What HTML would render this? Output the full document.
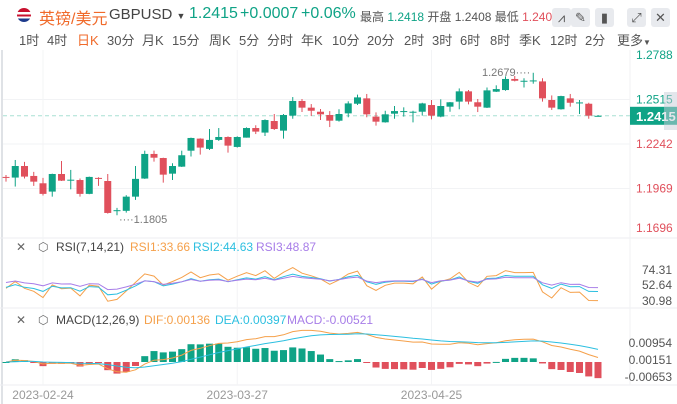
<!DOCTYPE html>
<html><head><meta charset="utf-8">
<style>
html,body{margin:0;padding:0;background:#fff;}
body{width:677px;height:404px;overflow:hidden;position:relative;font-family:"Liberation Sans","Noto Sans CJK SC",sans-serif;}
.t{position:absolute;white-space:nowrap;}
.btn{position:absolute;top:8px;width:19px;height:19px;background:#e8eaee;border-radius:3px;color:#555;font-size:13px;text-align:center;line-height:19px;}
.tab{position:absolute;top:30px;font-size:13px;color:#555;}
</style></head>
<body>
<div class="t" style="left:17px;top:8px;width:14px;height:14px;border-radius:7px;background:linear-gradient(#c8102e 0 30%,#fff 30% 45%,#c8102e 45% 60%,#fff 60% 75%,#1d3b8c 75%);"></div>
<div class="t" style="left:39px;top:5px;font-size:16px;color:#f06a2a;">英镑/美元</div>
<div class="t" style="left:109px;top:6px;font-size:15px;color:#444;">GBPUSD <span style="font-size:9px">▼</span></div>
<div class="t" style="left:189px;top:5px;font-size:16px;color:#0fa386;">1.2415</div>
<div class="t" style="left:240px;top:5px;font-size:16px;color:#0fa386;">+0.0007</div>
<div class="t" style="left:301px;top:5px;font-size:16px;color:#0fa386;">+0.06%</div>
<div class="t" style="left:360px;top:8px;font-size:12px;color:#555;">最高 <span style="color:#0fa386">1.2418</span> 开盘 1.2408 最低 <span style="color:#e0505c">1.240</span></div>
<div class="btn" style="left:552px;">⩘</div>
<div class="btn" style="left:571px;">✎</div>
<div class="btn" style="left:595px;">▮</div>
<div class="btn" style="left:627px;">⤢</div>
<div class="btn" style="left:651px;">✕</div>
<div class="tab" style="left:19px">1时</div>
<div class="tab" style="left:47px">4时</div>
<div class="tab" style="left:77px;color:#f06a2a">日K</div>
<div class="tab" style="left:107px">30分</div>
<div class="tab" style="left:142px">月K</div>
<div class="tab" style="left:172px">15分</div>
<div class="tab" style="left:209px">周K</div>
<div class="tab" style="left:239px">5分</div>
<div class="tab" style="left:267px">分时</div>
<div class="tab" style="left:301px">年K</div>
<div class="tab" style="left:332px">10分</div>
<div class="tab" style="left:367px">20分</div>
<div class="tab" style="left:404px">2时</div>
<div class="tab" style="left:432px">3时</div>
<div class="tab" style="left:460px">6时</div>
<div class="tab" style="left:490px">8时</div>
<div class="tab" style="left:519px">季K</div>
<div class="tab" style="left:550px">12时</div>
<div class="tab" style="left:585px">2分</div>
<div class="tab" style="left:617px">更多<span style="font-size:8px">▼</span></div>

<svg id="chart" width="677" height="404" style="position:absolute;left:0;top:0;" font-family="Liberation Sans, Noto Sans CJK SC, sans-serif"></svg>

<script>
const opens=[1.2040,1.2036,1.2107,1.2046,1.2001,1.1950,1.2058,1.2019,1.2021,1.1936,1.2034,1.2015,1.1832,1.1832,1.1919,1.2030,1.2181,1.2156,1.2060,1.2103,1.2201,1.2275,1.2212,1.2267,1.2285,1.2224,1.2281,1.2340,1.2312,1.2383,1.2324,1.2416,1.2506,1.2465,1.2440,1.2420,1.2385,1.2430,1.2489,1.2522,1.2410,1.2375,1.2428,1.2440,1.2436,1.2440,1.2481,1.2410,1.2471,1.2502,1.2565,1.2498,1.2465,1.2563,1.2573,1.2641,1.2626,1.2628,1.2626,1.2512,1.2455,1.2522,1.2493,1.2489,1.2412];
const highs=[1.2052,1.2144,1.2132,1.2071,1.2034,1.2060,1.2138,1.2083,1.2030,1.2042,1.2038,1.2058,1.1850,1.1928,1.2107,1.2201,1.2201,1.2158,1.2124,1.2201,1.2281,1.2277,1.2334,1.2340,1.2289,1.2289,1.2344,1.2357,1.2393,1.2426,1.2426,1.2530,1.2518,1.2487,1.2457,1.2444,1.2455,1.2504,1.2545,1.2549,1.2436,1.2446,1.2475,1.2467,1.2446,1.2495,1.2512,1.2516,1.2500,1.2583,1.2573,1.2518,1.2589,1.2602,1.2657,1.2659,1.2645,1.2679,1.2645,1.2540,1.2538,1.2549,1.2512,1.2495,1.2420];
const lows=[1.2011,1.1981,1.2030,1.1985,1.1926,1.1919,1.2015,1.1964,1.1919,1.1934,1.1985,1.1815,1.1805,1.1821,1.1899,1.2028,1.2134,1.2005,1.2021,1.2101,1.2165,1.2177,1.2205,1.2261,1.2189,1.2220,1.2281,1.2303,1.2291,1.2328,1.2275,1.2397,1.2438,1.2414,1.2389,1.2346,1.2379,1.2406,1.2481,1.2406,1.2355,1.2373,1.2397,1.2410,1.2375,1.2416,1.2393,1.2406,1.2440,1.2455,1.2485,1.2438,1.2463,1.2561,1.2569,1.2626,1.2589,1.2612,1.2502,1.2451,1.2453,1.2471,1.2426,1.2397,1.2410];
const closes=[1.2036,1.2107,1.2042,1.2011,1.1936,1.2058,1.2017,1.2023,1.1936,1.2040,1.2030,1.1819,1.1836,1.1919,1.2028,1.2181,1.2158,1.2054,1.2107,1.2173,1.2279,1.2220,1.2267,1.2285,1.2232,1.2285,1.2340,1.2318,1.2389,1.2334,1.2420,1.2506,1.2465,1.2446,1.2424,1.2385,1.2426,1.2491,1.2528,1.2424,1.2379,1.2424,1.2444,1.2444,1.2440,1.2491,1.2416,1.2475,1.2498,1.2565,1.2502,1.2471,1.2571,1.2579,1.2641,1.2630,1.2630,1.2632,1.2522,1.2465,1.2536,1.2495,1.2497,1.2416,1.2415];
const priceTicks=[1.2788,1.2515,1.2242,1.1969,1.1696];
const rsiTicks=[74.31,52.64,30.98];
const macdTicks=[0.00954,0.00151,-0.00653];
const dateLabels=[["2023-02-24",4],["2023-03-27",25],["2023-04-25",46]];
const lastPrice=1.2415;

const svg=document.getElementById('chart');
const NS='http://www.w3.org/2000/svg';
const GREEN='#0fa386',RED='#e0505c';
function mk(tag,attrs,parent){const e=document.createElementNS(NS,tag);for(const k in attrs)e.setAttribute(k,attrs[k]);(parent||svg).appendChild(e);return e;}
const xOf=i=>6+i*9.25;
const yP=p=>144-(p-1.2242)/0.0273*44.5;
const yR=v=>285-(v-52.64)/21.665*17;
const yM=v=>362-v*3000;

let e;
e=mk('line',{x1:2,y1:50,x2:2,y2:404,stroke:'#dfe2e6','stroke-width':2});

[238,308,385].forEach(y=>{e=mk('line',{x1:0,y1:y,x2:677,y2:y,stroke:'#eceef1'});
});
e=mk('line',{x1:630,y1:50,x2:630,y2:385,stroke:'#f0f1f3'});

priceTicks.forEach((p,i)=>{
  if(i>0&&i<4){e=mk('line',{x1:3,y1:yP(p),x2:630,y2:yP(p),stroke:'#f2f3f5'});
  }
  e=mk('text',{x:636,y:Math.min(yP(p)+4,232),'font-size':12,fill:p>lastPrice?GREEN:RED});
  e.textContent=p.toFixed(4);
  
});
dateLabels.forEach(d=>{
  e=mk('line',{x1:xOf(d[1]),y1:50,x2:xOf(d[1]),y2:385,stroke:'#f3f4f6'});
  
  e=mk('text',{x:xOf(d[1]),y:399,'font-size':12,fill:'#999','text-anchor':'middle'});
  e.textContent=d[0];
  
});
e=mk('line',{x1:3,y1:yP(lastPrice),x2:630,y2:yP(lastPrice),stroke:'#a8e0d4','stroke-dasharray':'4,3'});

e=mk('rect',{x:630,y:yP(lastPrice)-9,width:47,height:18,fill:GREEN});

e=mk('text',{x:636,y:yP(lastPrice)+5,'font-size':13,fill:'#fff','font-weight':'bold'});e.textContent=lastPrice.toFixed(4);

e=mk('rect',{x:664,y:92,width:13,height:38,fill:'rgba(200,205,215,0.5)'});


for(let i=0;i<closes.length;i++){
  const up=closes[i]>=opens[i],c=up?GREEN:RED,x=xOf(i);
  const g=mk('g',{});
  
  mk('line',{x1:x,y1:yP(highs[i]),x2:x,y2:yP(lows[i]),stroke:c,'stroke-width':1},g);
  const t=yP(Math.max(opens[i],closes[i])),b=yP(Math.min(opens[i],closes[i]));
  mk('rect',{x:x-3.5,y:t,width:7,height:Math.max(1,b-t),fill:c},g);
}
let hi=0,lo=0;highs.forEach((h,i)=>{if(h>highs[hi])hi=i;});lows.forEach((l,i)=>{if(l<lows[lo])lo=i;});
e=mk('text',{x:xOf(hi)-3,y:yP(highs[hi])+3,'font-size':11,fill:'#777','text-anchor':'end'});e.textContent=highs[hi].toFixed(4)+'····';

e=mk('text',{x:xOf(lo)+2,y:yP(lows[lo])+8,'font-size':11,fill:'#777'});e.textContent='····'+lows[lo].toFixed(4);


function rsi(n){
  let up=0,ab=0;const m=Math.min(n,closes.length-1);
  for(let i=1;i<=m;i++){const d=closes[i]-closes[i-1];up+=Math.max(d,0)/m;ab+=Math.abs(d)/m;}
  const out=[];
  for(let i=0;i<closes.length;i++){const d=i?closes[i]-closes[i-1]:0;if(i){up=(Math.max(d,0)+(n-1)*up)/n;ab=(Math.abs(d)+(n-1)*ab)/n;}out.push(ab===0?50:up/ab*100);}
  return out;}
function ema(arr,n){const o=[];arr.forEach((v,i)=>o.push(i?(2*v+(n-1)*o[i-1])/(n+1):v));return o;}
[[7,'#f5a04a','rsi1-line'],[14,'#2cbfe0','rsi2-line'],[21,'#a77de8','rsi3-line']].forEach(s=>{
  const v=rsi(s[0]);const pts=v.map((r,i)=>xOf(i)+','+Math.max(252,Math.min(307,yR(r))).toFixed(1)).join(' ');
  e=mk('polyline',{points:pts,fill:'none',stroke:s[1],'stroke-width':1});
  
});
rsiTicks.forEach((t,k)=>{e=mk('text',{x:672,y:[274,289,305][k],'font-size':12,fill:'#555','text-anchor':'end'});e.textContent=t.toFixed(2);
});

const e12=ema(closes,12),e26=ema(closes,26);
const dif=closes.map((c,i)=>e12[i]-e26[i]);const dea=ema(dif,9);
dif.forEach((d,i)=>{const h=2*(d-dea[i]);const y0=yM(0),y1=Math.max(316,Math.min(383,yM(h)));
  e=mk('rect',{x:xOf(i)-3.5,y:Math.min(y0,y1),width:7,height:Math.max(1,Math.abs(y1-y0)),fill:h>=0?GREEN:RED});
  });
[[dif,'#f5a04a','dif-line'],[dea,'#2cbfe0','dea-line']].forEach(s=>{
  e=mk('polyline',{points:s[0].map((v,i)=>xOf(i)+','+Math.max(316,Math.min(384,yM(v))).toFixed(1)).join(' '),fill:'none',stroke:s[1],'stroke-width':1});
  });
macdTicks.forEach((t,k)=>{e=mk('text',{x:672,y:[347,364,381][k],'font-size':12,fill:'#555','text-anchor':'end'});e.textContent=t.toFixed(5);
});
</script>

<div class="t" style="left:16px;top:240px;font-size:12px;color:#666;">✕</div>
<div class="t" style="left:38px;top:240px;font-size:12px;color:#666;">⬡</div>
<div class="t" style="left:56px;top:240px;font-size:12px;color:#444;">RSI(7,14,21)</div>
<div class="t" style="left:130px;top:240px;font-size:12px;color:#f5a04a;">RSI1:33.66</div>
<div class="t" style="left:193px;top:240px;font-size:12px;color:#2cbfe0;">RSI2:44.63</div>
<div class="t" style="left:256px;top:240px;font-size:12px;color:#a77de8;">RSI3:48.87</div>
<div class="t" style="left:16px;top:313px;font-size:12px;color:#666;">✕</div>
<div class="t" style="left:38px;top:313px;font-size:12px;color:#666;">⬡</div>
<div class="t" style="left:56px;top:313px;font-size:12px;color:#444;">MACD(12,26,9)</div>
<div class="t" style="left:144px;top:313px;font-size:12px;color:#f5a04a;">DIF:0.00136</div>
<div class="t" style="left:215px;top:313px;font-size:12px;color:#2cbfe0;">DEA:0.00397</div>
<div class="t" style="left:287px;top:313px;font-size:12px;color:#a77de8;">MACD:-0.00521</div>
</body></html>
